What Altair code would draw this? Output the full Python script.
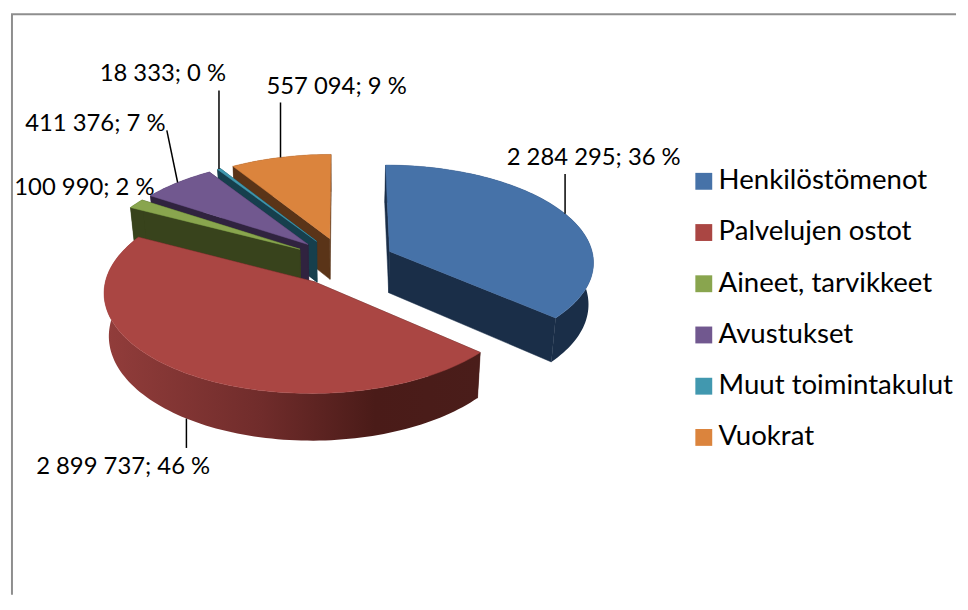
import math
import altair as alt
import pandas as pd

# ---- chart values ----
names = ["Henkilöstömenot", "Palvelujen ostot", "Aineet, tarvikkeet", "Avustukset", "Muut toimintakulut", "Vuokrat"]
values = [2284295, 2899737, 100990, 411376, 18333, 557094]
value_labels = ["2 284 295", "2 899 737", "100 990", "411 376", "18 333", "557 094"]
percent_labels = ["36 %", "46 %", "2 %", "7 %", "0 %", "9 %"]

# ---- style ----
top_colors = ["#4672A8", "#A84442", "#84A54A", "#6F5590", "#3D95AD", "#D8823D"]
wall_colors = ["#1A2E48", "#4A1C19", "#38431C", "#30233F", "#163F4D", "#5A3418"]
legend_colors = ["#4672A8", "#AA4643", "#89A54E", "#71588F", "#4198AF", "#DB843D"]
red_wall = alt.Gradient(
    gradient="linear", x1=0, x2=1, y1=0, y2=0,
    stops=[alt.GradientStop(color="#923D3B", offset=0), alt.GradientStop(color="#702C2B", offset=0.42),
           alt.GradientStop(color="#4A1B18", offset=0.72), alt.GradientStop(color="#4A1D1A", offset=1)],
)
# pie projection (exploded, tilted disc seen in perspective)
VX, VY, RX, RY, PERSP, EXPLODE, DEPTH, BASE = 343, 258, 206, 97.3, 0.0975, 0.25, 42, 0.98
# label centres (page pixels), leader far ends: y for vertical leaders, (x, y) for slanted, None = no leader
label_xy = [(595, 154), (121, 465), (82, 184), (93, 120), (161, 69), (336, 82)]
leader_end = [170, 446, None, (165, 126), 86, 98]
FONT = "Lato"
SIZE = 24
LEGEND_SIZE = 27.8
LEFT, TOP, RIGHT, BOTTOM = 8, 8, 960, 594

total = sum(values)
angles = []
acc = 0.0
for v in values:
    a0 = acc / total * 360
    acc += v
    angles.append((a0, acc / total * 360))


def project(wx, wz):
    s = 1 / (1 + PERSP * wz)
    return VX + wx * RX * s, VY - wz * RY * s, s


def rim(i, t):
    a0, a1 = angles[i]
    b = math.radians((a0 + a1) / 2)
    r = math.radians(t)
    return project(EXPLODE * math.sin(b) + math.sin(r), EXPLODE * math.cos(b) + math.cos(r))


def apex(i):
    a0, a1 = angles[i]
    b = math.radians((a0 + a1) / 2)
    return project(EXPLODE * math.sin(b), EXPLODE * math.cos(b))


def low(p):
    return VX + (p[0] - VX) * BASE, p[1] + DEPTH * p[2]


def arc_pts(i):
    a0, a1 = angles[i]
    n = max(4, int((a1 - a0) / 1.5))
    return [rim(i, a0 + (a1 - a0) * k / n) for k in range(n + 1)]


XS = alt.Scale(domain=[LEFT, RIGHT])
YS = alt.Scale(domain=[BOTTOM, TOP])


def enc(df, **extra):
    return alt.Chart(df).encode(
        x=alt.X("x:Q", scale=XS, axis=None),
        y=alt.Y("y:Q", scale=YS, axis=None),
        order=alt.Order("i:Q"),
        **extra,
    )


def frame(pts):
    return pd.DataFrame({"x": [p[0] for p in pts], "y": [p[1] for p in pts], "i": range(len(pts))})


fill_scale = alt.Scale(domain=names, range=legend_colors)
legend = alt.Legend(
    orient="none", legendX=684, legendY=155.5, title=None, symbolType="square", symbolSize=289,
    symbolStrokeWidth=0, labelFont=FONT, labelFontSize=LEGEND_SIZE, labelColor="#000000", labelLimit=300,
    rowPadding=22.6, symbolOffset=0, labelOffset=1,
)

layers = []
frame_df = frame([(RIGHT, 9), (9, 9), (9, BOTTOM)])
layers.append(enc(frame_df).mark_line(color="#8E8E8E", strokeWidth=2))

# back to front: Vuokrat, Muut, Avustukset, Aineet, Henkilöstö, Palvelut
for i in [5, 4, 3, 2, 0, 1]:
    a = apex(i)
    arc = arc_pts(i)
    wall_fill = red_wall if i == 1 else wall_colors[i]
    polys = [
        [(a[0], a[1]), arc[0][:2], low(arc[0]), low(a)],
        [(a[0], a[1]), arc[-1][:2], low(arc[-1]), low(a)],
    ]
    for poly in polys:
        layers.append(enc(frame(poly + [poly[0]])).mark_line(fill=wall_colors[i], stroke=wall_colors[i], strokeWidth=0.5))
    outer = [p[:2] for p in arc] + [low(p) for p in reversed(arc)]
    outer = outer + [outer[0]]
    layers.append(enc(frame(outer)).mark_line(fill=wall_fill, strokeWidth=0))
    top = frame([a[:2]] + [p[:2] for p in arc] + [a[:2]])
    top["name"] = names[i]
    layers.append(
        enc(top, fill=alt.Fill("name:N", scale=fill_scale, legend=legend, sort=names)).mark_line(
            stroke=top_colors[i], strokeWidth=0.5
        )
    )

# leaders, anchored on the middle of each slice's rim
for i, end in enumerate(leader_end):
    if end is None:
        continue
    p = rim(i, sum(angles[i]) / 2)
    start = low(p) if p[1] > VY else p[:2]
    far = end if isinstance(end, tuple) else (start[0], end)
    layers.append(enc(frame([start, far])).mark_line(color="#000000", strokeWidth=1.5))

labels = pd.DataFrame(
    {
        "x": [p[0] for p in label_xy],
        "y": [p[1] for p in label_xy],
        "t": [f"{v}; {q}" for v, q in zip(value_labels, percent_labels)],
    }
)
layers.append(
    alt.Chart(labels)
    .mark_text(font=FONT, fontSize=SIZE, color="#000000", align="center", baseline="middle")
    .encode(x=alt.X("x:Q", scale=XS, axis=None), y=alt.Y("y:Q", scale=YS, axis=None), text="t:N")
)

chart = (
    alt.layer(*layers)
    .properties(width=RIGHT - LEFT, height=BOTTOM - TOP, padding=0, background="#FFFFFF")
    .configure_view(stroke=None)
)
chart.save("out.html", embed_options={"renderer": "svg", "actions": False})
